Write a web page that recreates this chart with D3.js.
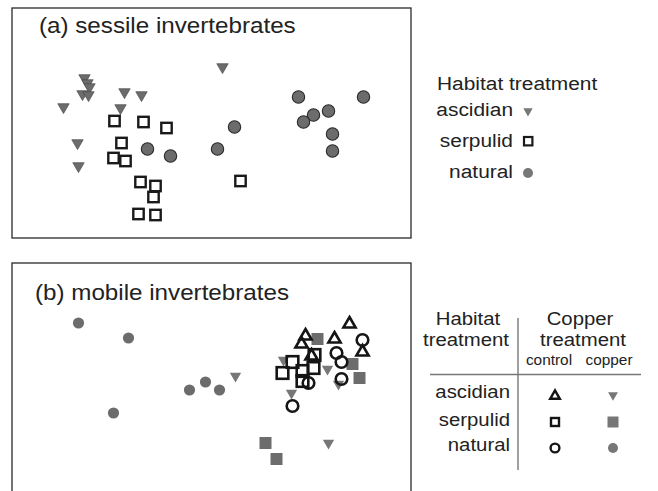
<!DOCTYPE html>
<html>
<head>
<meta charset="utf-8">
<script src="https://d3js.org/d3.v7.min.js"></script>
<style>
    body { margin: 0; background: #fff; }
    text { font-family: "Liberation Sans", Arial, sans-serif; fill: #222; }
</style>
</head>
<body>
<svg id="chart" width="658" height="491"></svg>
<script>
// NMDS scores, [axis1, axis2]

// (a) sessile invertebrates
let sessileAscidian = [
    [-1.27, 0.45], [-1.24, 0.40], [-1.22, 0.36], [-1.29, 0.29], [-1.23, 0.28],
    [-0.87, 0.31], [-0.70, 0.28], [-1.48, 0.16], [-0.91, 0.15],
    [-1.34, -0.20], [-1.33, -0.43], [0.11, 0.56]
];
let sessileSerpulid = [
    [-0.97, 0.02], [-0.68, 0.01], [-0.45, -0.05], [-0.90, -0.20],
    [-0.98, -0.35], [-0.86, -0.38], [-0.71, -0.59], [-0.56, -0.63],
    [-0.58, -0.74], [-0.73, -0.91], [-0.56, -0.92], [0.29, -0.58]
];
let sessileNatural = [
    [-0.64, -0.26], [-0.41, -0.33], [0.23, -0.04], [0.06, -0.26],
    [0.87, 0.26], [1.52, 0.26], [1.17, 0.12], [1.02, 0.08],
    [0.92, 0.01], [1.21, -0.11], [1.21, -0.28]
];

// (b) mobile invertebrates, copper treatment
let mobileAscidianCopper = [
    [0.24, 0.02], [0.72, 0.18], [0.80, -0.15], [1.16, 0.09], [1.27, -0.06], [1.17, -0.65]
];
let mobileSerpulidCopper = [
    [1.06, 0.39], [1.41, 0.14], [1.48, 0.00], [0.54, -0.65], [0.65, -0.81]
];
let mobileNaturalCopper = [
    [-1.33, 0.55], [-0.83, 0.40], [-0.98, -0.35], [-0.22, -0.12], [-0.06, -0.04], [0.08, -0.12]
];
// (b) mobile invertebrates, control
let mobileAscidianControl = [
    [0.94, 0.42], [0.90, 0.34], [1.23, 0.39], [1.38, 0.54], [1.51, 0.26], [1.00, 0.22]
];
let mobileSerpulidControl = [
    [0.81, 0.16], [0.71, 0.05], [0.91, 0.07], [1.03, 0.23], [1.02, 0.10], [0.91, -0.03]
];
let mobileNaturalControl = [
    [1.51, 0.38], [1.25, 0.25], [1.30, 0.16], [1.30, -0.01], [0.97, -0.05], [0.81, -0.28]
];

let habitats = ["ascidian", "serpulid", "natural"];
let copperLevels = ["control", "copper"];

let svg = d3.select("#chart");
let grey = "#6c6c6c";

// text looks slightly stretched sideways in the original
function label(g, x, y, str, size, anchor) {
    return g.append("text")
        .attr("transform", "translate(" + x + "," + y + ") scale(1.1,1)")
        .attr("text-anchor", anchor || "start")
        .style("font-size", size + "px")
        .text(str);
}

function triDown(size) {
    return d3.symbol().type(d3.symbolTriangle).size(size)();
}

/**
 * Draws a framed panel and returns its x / y scales
 */
function makePanel(top, title) {
    let x = d3.scaleLinear().domain([-2, 2]).range([11.5, 411.5]);
    let y = d3.scaleLinear().domain([-1.15, 1.15]).range([top + 230, top]);

    svg.append("rect")
        .attr("x", 12).attr("y", top)
        .attr("width", 399).attr("height", 230)
        .attr("fill", "none")
        .attr("stroke", "#2a2a2a")
        .attr("stroke-width", 1.3);

    label(svg, title.x, top + title.dy, title.text, 22);
    return {x: x, y: y};
}

// ******* panel (a) *******
let pa = makePanel(8, {x: 39, dy: 25, text: "(a) sessile invertebrates"});
let ga = svg.append("g");

ga.selectAll("path.asc")
    .data(sessileAscidian)
    .enter().append("path")
    .attr("class", "asc")
    .attr("d", triDown(56))
    .attr("transform", function(d) {
        return "translate(" + pa.x(d[0]) + "," + pa.y(d[1]) + ") rotate(180)";
    })
    .attr("fill", grey)
    .attr("stroke", "#4a4a4a")
    .attr("stroke-width", 0.7);

ga.selectAll("rect.serp")
    .data(sessileSerpulid)
    .enter().append("rect")
    .attr("class", "serp")
    .attr("x", function(d) { return pa.x(d[0]) - 5.2; })
    .attr("y", function(d) { return pa.y(d[1]) - 5.2; })
    .attr("width", 10.4).attr("height", 10.4)
    .attr("fill", "#fff")
    .attr("stroke", "#1a1a1a")
    .attr("stroke-width", 2.4);

ga.selectAll("circle.nat")
    .data(sessileNatural)
    .enter().append("circle")
    .attr("class", "nat")
    .attr("cx", function(d) { return pa.x(d[0]); })
    .attr("cy", function(d) { return pa.y(d[1]); })
    .attr("r", 6.2)
    .attr("fill", grey)
    .attr("stroke", "#2a2a2a")
    .attr("stroke-width", 1.1);

// legend (a)
let la = svg.append("g");
label(la, 437, 90, "Habitat treatment", 19);
let laY = [116, 147, 178];
habitats.forEach(function(h, i) {
    label(la, 513, laY[i], h, 19, "end");
});
la.append("path")
    .attr("d", triDown(38))
    .attr("transform", "translate(528,111) rotate(180)")
    .attr("fill", "#777");
la.append("rect")
    .attr("x", 524).attr("y", 137).attr("width", 8.4).attr("height", 8.4)
    .attr("fill", "#fff").attr("stroke", "#1a1a1a").attr("stroke-width", 2.2);
la.append("circle")
    .attr("cx", 528).attr("cy", 173).attr("r", 5)
    .attr("fill", "#777");

// ******* panel (b) *******
let pb = makePanel(263, {x: 35, dy: 37, text: "(b) mobile invertebrates"});
let gb = svg.append("g");

// copper treatment first (grey filled), controls on top
gb.selectAll("circle.natCu")
    .data(mobileNaturalCopper)
    .enter().append("circle")
    .attr("class", "natCu")
    .attr("cx", function(d) { return pb.x(d[0]); })
    .attr("cy", function(d) { return pb.y(d[1]); })
    .attr("r", 5.6)
    .attr("fill", grey);

gb.selectAll("rect.serpCu")
    .data(mobileSerpulidCopper)
    .enter().append("rect")
    .attr("class", "serpCu")
    .attr("x", function(d) { return pb.x(d[0]) - 6; })
    .attr("y", function(d) { return pb.y(d[1]) - 6; })
    .attr("width", 12).attr("height", 12)
    .attr("fill", grey);

gb.selectAll("path.ascCu")
    .data(mobileAscidianCopper)
    .enter().append("path")
    .attr("class", "ascCu")
    .attr("d", triDown(56))
    .attr("transform", function(d) {
        return "translate(" + pb.x(d[0]) + "," + pb.y(d[1]) + ") rotate(180)";
    })
    .attr("fill", "#777");

gb.selectAll("rect.serpCt")
    .data(mobileSerpulidControl)
    .enter().append("rect")
    .attr("class", "serpCt")
    .attr("x", function(d) { return pb.x(d[0]) - 5.8; })
    .attr("y", function(d) { return pb.y(d[1]) - 5.8; })
    .attr("width", 11.6).attr("height", 11.6)
    .attr("fill", "none")
    .attr("stroke", "#151515")
    .attr("stroke-width", 2.6);

gb.selectAll("path.ascCt")
    .data(mobileAscidianControl)
    .enter().append("path")
    .attr("class", "ascCt")
    .attr("d", d3.symbol().type(d3.symbolTriangle).size(64)())
    .attr("transform", function(d) {
        return "translate(" + pb.x(d[0]) + "," + pb.y(d[1]) + ")";
    })
    .attr("fill", "none")
    .attr("stroke", "#151515")
    .attr("stroke-width", 2.6)
    .attr("stroke-linejoin", "miter");

gb.selectAll("circle.natCt")
    .data(mobileNaturalControl)
    .enter().append("circle")
    .attr("class", "natCt")
    .attr("cx", function(d) { return pb.x(d[0]); })
    .attr("cy", function(d) { return pb.y(d[1]); })
    .attr("r", 5.8)
    .attr("fill", "none")
    .attr("stroke", "#151515")
    .attr("stroke-width", 2.6);

// legend (b) - small table
let lb = svg.append("g");
label(lb, 468, 325, "Habitat", 18.5, "middle");
label(lb, 466, 346, "treatment", 18.5, "middle");
label(lb, 580, 325, "Copper", 18.5, "middle");
label(lb, 583, 346, "treatment", 18.5, "middle");
let colX = [549, 609];
copperLevels.forEach(function(c, i) {
    label(lb, colX[i], 365, c, 14, "middle");
});

lb.append("line")
    .attr("x1", 518).attr("x2", 518).attr("y1", 318).attr("y2", 470)
    .attr("stroke", "#777").attr("stroke-width", 1.4);
lb.append("line")
    .attr("x1", 430).attr("x2", 641).attr("y1", 374.5).attr("y2", 374.5)
    .attr("stroke", "#777").attr("stroke-width", 1.4);

let rowY = [398, 426, 451];
let symY = [395, 422, 448];
habitats.forEach(function(h, i) {
    label(lb, 510, rowY[i], h, 18.5, "end");
});

// control column
lb.append("path")
    .attr("d", d3.symbol().type(d3.symbolTriangle).size(40)())
    .attr("transform", "translate(555," + (symY[0] + 1) + ")")
    .attr("fill", "none").attr("stroke", "#151515").attr("stroke-width", 2.4);
lb.append("rect")
    .attr("x", 551).attr("y", symY[1] - 4).attr("width", 8).attr("height", 8)
    .attr("fill", "none").attr("stroke", "#151515").attr("stroke-width", 2.4);
lb.append("circle")
    .attr("cx", 555).attr("cy", symY[2]).attr("r", 4.4)
    .attr("fill", "none").attr("stroke", "#151515").attr("stroke-width", 2.4);

// copper column
lb.append("path")
    .attr("d", triDown(42))
    .attr("transform", "translate(613," + symY[0] + ") rotate(180)")
    .attr("fill", "#777");
lb.append("rect")
    .attr("x", 607.5).attr("y", symY[1] - 5.5).attr("width", 11).attr("height", 11)
    .attr("fill", "#777");
lb.append("circle")
    .attr("cx", 613).attr("cy", symY[2]).attr("r", 5)
    .attr("fill", "#777");
</script>
</body>
</html>
